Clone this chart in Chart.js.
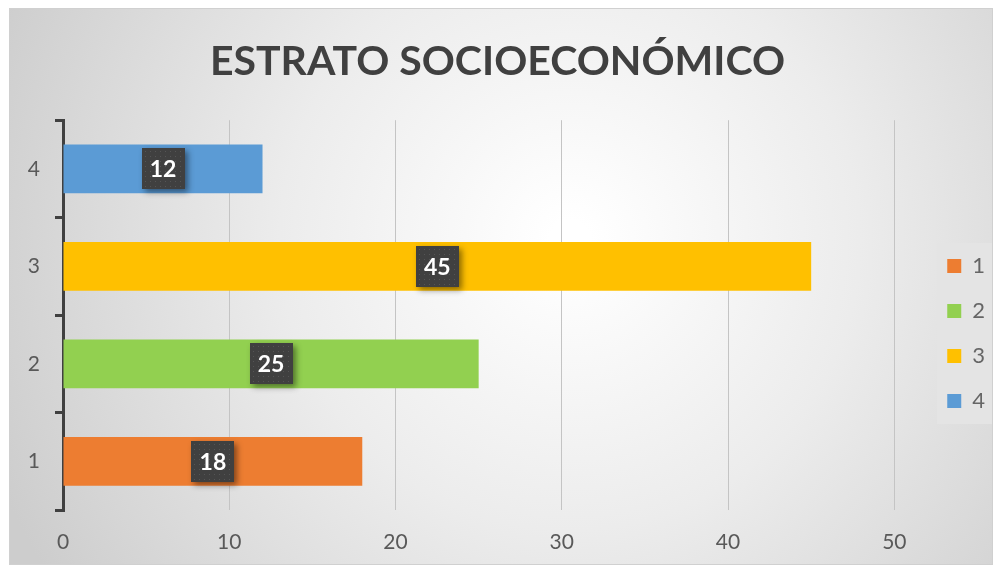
<!DOCTYPE html>
<html>
<head>
<meta charset="utf-8">
<script src="https://cdn.jsdelivr.net/npm/chart.js@4/dist/chart.umd.min.js"></script>
<style>
  html, body { margin: 0; padding: 0; background: #fff; }
  #wrap { width: 995px; height: 567px; }
</style>
</head>
<body>
<div id="wrap"><canvas id="myChart" width="995" height="567"></canvas></div>
<script>
// data
var categories = ['1', '2', '3', '4'];
var values = [18, 25, 45, 12];
var barColors = ['#ED7D31', '#92D050', '#FFC000', '#5B9BD5'];
var xTicks = [0, 10, 20, 30, 40, 50];
var chartTitle = 'ESTRATO SOCIOECONÓMICO';

var FONT = "Lato, 'Open Sans', sans-serif";

// background, frame and legend panel
var backdrop = {
  id: 'backdrop',
  beforeDraw: function(chart) {
    var c = chart.ctx;
    c.save();
    var g = c.createRadialGradient(570, 240, 20, 570, 240, 620);
    g.addColorStop(0, '#ffffff');
    g.addColorStop(0.45, '#ececec');
    g.addColorStop(1, '#cdcdcd');
    c.fillStyle = g;
    c.fillRect(9, 8, 984, 557);
    c.strokeStyle = '#d0d0d0';
    c.lineWidth = 1;
    c.strokeRect(9.5, 8.5, 983, 556);

    var boxes = chart.legend.legendHitBoxes;
    if (boxes && boxes.length) {
      var first = boxes[0], last = boxes[boxes.length - 1];
      var top = first.top + first.height / 2 - 23;
      var bottom = last.top + last.height / 2 + 23;
      c.fillStyle = 'rgba(228,228,228,0.95)';
      c.fillRect(937, top, 992 - 937, bottom - top);
    }
    c.restore();
  }
};

// dark value boxes in the middle of each bar
var valueBoxes = {
  id: 'valueBoxes',
  afterDatasetsDraw: function(chart) {
    var c = chart.ctx;
    var meta = chart.getDatasetMeta(0);
    meta.data.forEach(function(bar, i) {
      var cx = (bar.x + bar.base) / 2;
      var cy = bar.y;
      var w = 43, h = 41;
      var x0 = Math.round(cx - w / 2), y0 = Math.round(cy - h / 2);
      c.save();
      c.shadowColor = 'rgba(0,0,0,0.45)';
      c.shadowBlur = 6;
      c.shadowOffsetX = 3;
      c.shadowOffsetY = 3;
      c.fillStyle = '#404040';
      c.fillRect(x0, y0, w, h);
      c.restore();
      c.save();
      c.fillStyle = '#555555';
      for (var dx = 3; dx < w; dx += 5) {
        for (var dy = 3; dy < h; dy += 5) {
          c.fillRect(x0 + dx, y0 + dy, 1, 1);
        }
      }
      c.fillStyle = '#ffffff';
      c.font = 'bold 23px ' + FONT;
      c.textAlign = 'center';
      c.textBaseline = 'middle';
      c.fillText(String(values[i]), cx, cy + 1);
      c.restore();
    });
  }
};

var ctx = document.getElementById('myChart').getContext('2d');
var myChart = new Chart(ctx, {
  type: 'bar',
  data: {
    labels: categories,
    datasets: [{
      label: 'Estrato',
      data: values,
      backgroundColor: barColors,
      borderWidth: 0,
      barPercentage: 0.5,
      categoryPercentage: 1
    }]
  },
  plugins: [backdrop, valueBoxes],
  options: {
    indexAxis: 'y',
    responsive: false,
    animation: false,
    layout: { padding: { top: 0, left: 0, right: 0, bottom: 0 } },
    plugins: {
      title: {
        display: true,
        text: chartTitle,
        color: '#404040',
        font: { family: FONT, size: 41, weight: 'bold' },
        padding: { top: 37, bottom: 34 }
      },
      legend: {
        position: 'right',
        title: {
          display: true,
          text: ' ',
          font: { size: 10 },
          padding: { top: 88, bottom: 0 }
        },
        labels: {
          color: '#404040',
          font: { family: FONT, size: 22 },
          boxWidth: 14,
          boxHeight: 14,
          padding: 23,
          generateLabels: function(chart) {
            return categories.map(function(cat, i) {
              return {
                text: cat,
                fillStyle: barColors[i],
                strokeStyle: barColors[i],
                lineWidth: 0,
                hidden: false,
                index: i
              };
            });
          }
        }
      },
      tooltip: { enabled: false }
    },
    scales: {
      y: {
        reverse: true,
        afterFit: function(s) { s.width = 63; },
        border: { display: true, color: '#404040', width: 3 },
        grid: {
          drawOnChartArea: false,
          drawTicks: true,
          tickLength: 8,
          color: '#404040',
          lineWidth: 3
        },
        ticks: {
          color: '#595959',
          padding: 15,
          font: { family: FONT, size: 21 }
        }
      },
      x: {
        min: 0,
        max: 51.8,
        afterBuildTicks: function(s) {
          s.ticks = xTicks.map(function(v) { return { value: v }; });
        },
        afterFit: function(s) { s.height = 57; },
        border: { display: false },
        grid: { color: '#c4c4c4', lineWidth: 1, drawTicks: false },
        ticks: {
          color: '#595959',
          padding: 20,
          font: { family: FONT, size: 21 }
        }
      }
    }
  }
});
</script>
</body>
</html>
